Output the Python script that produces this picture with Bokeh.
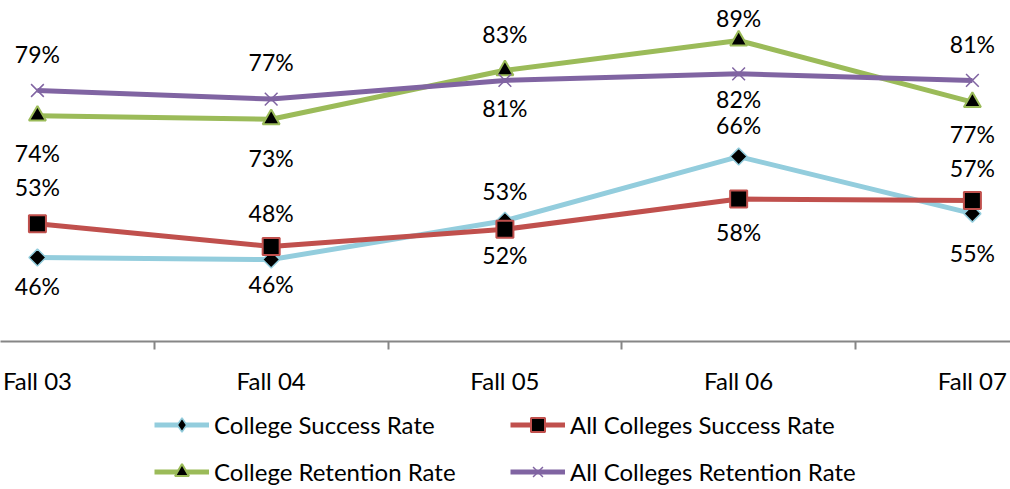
import math
from bokeh.plotting import figure
from bokeh.layouts import column
from bokeh.models import Range1d, FixedTicker, Legend, LegendItem, ColumnDataSource
from bokeh.embed import file_html
from bokeh.resources import INLINE
from bokeh.core.properties import value

# ---- data ----
categories = ["Fall 03", "Fall 04", "Fall 05", "Fall 06", "Fall 07"]
college_success = [46.0, 45.6, 53.3, 66.0, 54.7]
all_colleges_success = [52.7, 48.2, 51.6, 57.6, 57.3]
college_retention = [74.1, 73.4, 83.1, 89.0, 76.8]
all_colleges_retention = [79.1, 77.4, 81.1, 82.4, 81.1]

# ---- style: label offsets in px (positive = down) ----
cs_off = [28, 24, -30, -32, 39]
as_off = [-37, -33, 26, 33, -32]
cr_off = [37, 39, -36, -23, 32]
ar_off = [-36, -37, 28, 25, -36]

FONT = "Lato"
FS = "23px"
FS_AX = "24px"

x = list(range(len(categories)))

p = figure(width=1010, height=400, output_backend="svg", toolbar_location=None,
           x_range=Range1d(-0.158, 4.163), y_range=Range1d(29.36, 96.93),
           y_axis_location=None,
           min_border_left=0, min_border_right=0, min_border_top=0, min_border_bottom=59)
p.outline_line_color = None
p.xgrid.visible = False
p.ygrid.visible = False
p.background_fill_color = "white"

ax = p.xaxis[0]
ax.ticker = FixedTicker(ticks=x, minor_ticks=[0.5, 1.5, 2.5, 3.5])
ax.major_label_overrides = {i: c for i, c in enumerate(categories)}
ax.axis_line_color = "#868686"
ax.axis_line_width = 2
ax.major_tick_out = 0
ax.major_tick_in = 0
ax.minor_tick_out = 8
ax.minor_tick_in = 0
ax.minor_tick_line_color = "#868686"
ax.minor_tick_line_width = 2
ax.major_label_standoff = 16
ax.major_label_text_font = FONT
ax.major_label_text_font_size = FS_AX
ax.major_label_text_color = "black"

# legend strip below the chart
lg = figure(width=1010, height=89, output_backend="svg", toolbar_location=None,
            x_range=Range1d(100, 101), y_range=Range1d(100, 101),
            x_axis_location=None, y_axis_location=None,
            min_border_left=0, min_border_right=0, min_border_top=0, min_border_bottom=0)
lg.outline_line_color = None
lg.xgrid.visible = False
lg.ygrid.visible = False

series = [
    ("College Success Rate", college_success, "#93CDDD", "square", "diamond", 12, 1.5, cs_off, math.pi / 4),
    ("All Colleges Success Rate", all_colleges_success, "#C0504D", "square", "square", 17, 2, as_off, 0),
    ("College Retention Rate", college_retention, "#9BBB59", "triangle", "triangle", 17, 2, cr_off, 0),
    ("All Colleges Retention Rate", all_colleges_retention, "#8064A2", "x", "x", 18, 1.5, ar_off, 0),
]

items = []
for name, vals, color, marker, lmarker, size, lw, offs, ang in series:
    src = ColumnDataSource(dict(x=x, y=vals, lab=[f"{round(v)}%" for v in vals], off=offs))
    for fig, mk, an in ((p, marker, ang), (lg, lmarker, 0)):
        r1 = fig.line("x", "y", source=src, line_color=color, line_width=5)
        if mk == "x":
            r2 = fig.scatter("x", "y", source=src, marker=mk, size=size, line_color=color,
                             line_width=lw)
        else:
            r2 = fig.scatter("x", "y", source=src, marker=mk, size=size, angle=an,
                             fill_color="black", line_color=color, line_width=lw)
    p.text("x", "y", text="lab", source=src, y_offset="off", text_align="center",
           text_baseline="middle", text_font=value(FONT), text_font_size=FS, text_color="black")
    items.append(LegendItem(label=name, renderers=[r1, r2]))

legend = Legend(items=items, orientation="horizontal", ncols=2, location=(154, 0),
                glyph_width=55, glyph_height=35, label_standoff=5, spacing=12,
                label_width=284, label_height=28,
                padding=0, margin=0, border_line_alpha=0, background_fill_alpha=0,
                label_text_font=FONT, label_text_font_size=FS_AX, label_text_color="black")
lg.add_layout(legend, "center")

layout = column(p, lg, spacing=0)
open("out.html", "w").write(file_html(layout, INLINE))
